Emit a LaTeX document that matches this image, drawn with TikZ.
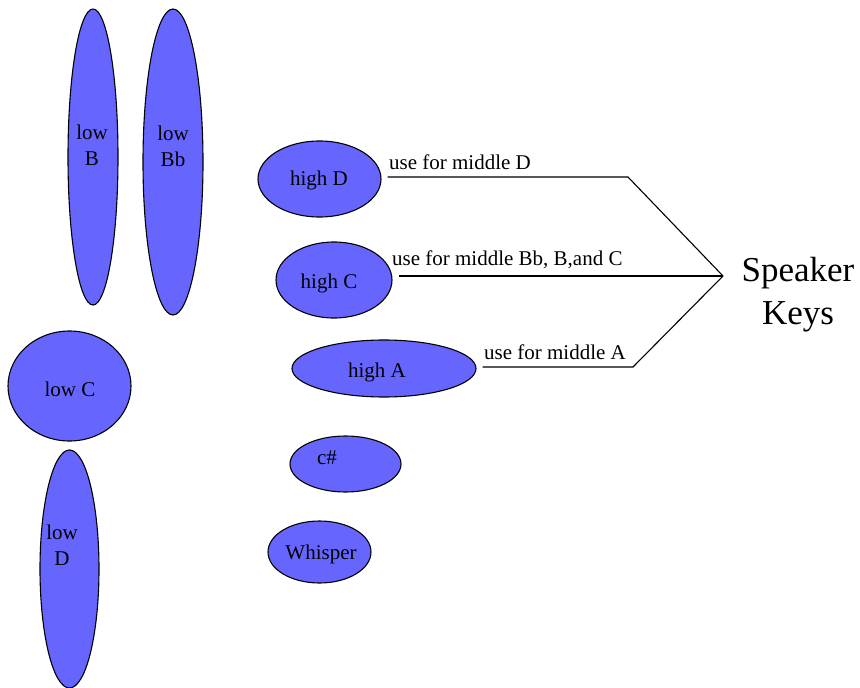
\documentclass[tikz,border=0pt]{standalone}
\usepackage{fontspec}
\setmainfont{Liberation Serif}
\usetikzlibrary{shapes.geometric}
\definecolor{keyblue}{RGB}{102,102,255}

\begin{document}
\begin{tikzpicture}
      [   x=1pt,y=-1pt,
          key/.style={draw=black,fill=keyblue,ellipse,line width=1.1pt,inner sep=0pt},
          keytext/.style={align=center,inner sep=0pt,font=\fontsize{21}{26}\selectfont},
          lbl/.style={anchor=south west,inner sep=7pt,font=\fontsize{21}{24}\selectfont},
          keyline/.style={line width=1.1pt,shorten <=6pt},
      ]
          \useasboundingbox (0,0) rectangle (860,688);
          \foreach \nm/\cx/\cy/\w/\h/\tx/\ty/\txt in
             {loB/93/157/50/296/92/145/{low\\B},
              loBb/173/162/60/306/173/146/{low\\Bb},
              hiD/319.5/179/123/76/319/180/{high D},
              hiC/334/280/116/76/329/283/{high C},
              hiA/384/368.5/184/57/377/372/{high A},
              csh/345.5/464/111/56/327/458/{c\#},
              whis/319.5/552/103/62/321/554/{Whisper},
              loC/69.5/386/123/110/70/389/{low C},
              loD/69.5/569/59/238/62/545/{low\\D}}
          {   \node[key,minimum width=\w pt,minimum height=\h pt] (\nm) at (\cx,\cy) {};
              \node[keytext] (\nm-t) at (\tx,\ty) {\txt};
          }
          % speaker key lines
          \coordinate (apex) at (723,276);
          \coordinate (bendD) at (628,177);
          \coordinate (bendA) at (633,367);
          \node[align=center,inner sep=0pt,font=\fontsize{35}{43}\selectfont] (spk) at (798,295) {Speaker\\Keys};
          \draw[keyline] ([yshift=2pt]hiD.east) -- node[lbl,pos=0] {use for middle D} ([yshift=2pt]hiD.east -| bendD) -- (apex);
          \draw[keyline] ([yshift=4pt]hiC.east) -- node[lbl,pos=0,xshift=-8pt] {use for middle Bb, B,and C} (apex);
          \draw[keyline] ([yshift=1.5pt]hiA.east) -- node[lbl,pos=0] {use for middle A} ([yshift=1.5pt]hiA.east -| bendA) -- (apex);
    \end{tikzpicture}
\end{document}
